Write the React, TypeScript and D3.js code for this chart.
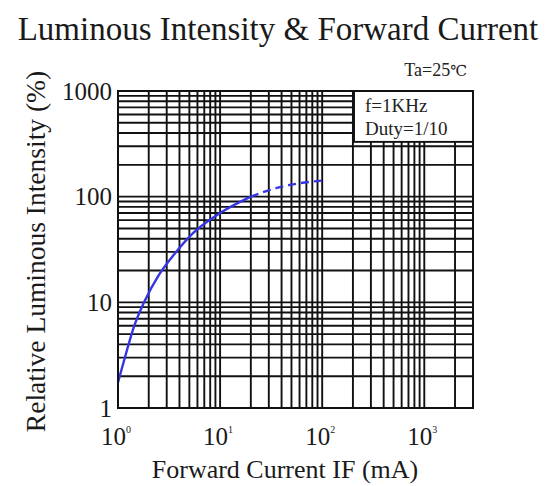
import React from 'react';
import * as d3 from 'd3';

// Forward current IF (mA) and relative luminous intensity (%)
const currentSolid = [1, 1.2, 1.4, 1.8, 2.5, 3.4, 5.4, 10, 20];
const intensitySolid = [1.75, 3.3, 5.5, 10, 18, 27, 45, 70, 100];
const currentDashed = [20, 36, 60, 110];
const intensityDashed = [100, 121, 134, 143];

const xDecades = [0, 1, 2, 3];
const yTickLabels = ['1', '10', '100', '1000'];

const FONT = '"Liberation Serif", "Times New Roman", serif';

const App = () => {
  const W = 560;
  const H = 486;
  const margin = { top: 91, right: 87, bottom: 78, left: 118 };

  const x = d3.scaleLog().domain([1, 3000]).range([margin.left, W - margin.right]);
  const y = d3.scaleLog().domain([1, 1000]).range([H - margin.bottom, margin.top]);

  const line = d3
    .line<[number, number]>()
    .x(d => x(d[0]))
    .y(d => y(d[1]))
    .curve(d3.curveMonotoneX);

  const solidPts = currentSolid.map((c, i) => [c, intensitySolid[i]] as [number, number]);
  const dashedPts = currentDashed.map((c, i) => [c, intensityDashed[i]] as [number, number]);

  const [x0, x1] = x.range();
  const [y0, y1] = y.range();

  // annotation box in data coordinates
  const boxX = x(205);
  const boxY = y(1000);
  const boxW = x1 - boxX;
  const boxH = y(330) - boxY;

  return (
    <svg width={W} height={H} style={{ position: 'absolute', left: 0, top: 0, background: '#fff' }} fontFamily={FONT}>
      <text x={W / 2 - 2} y={40} textAnchor="middle" fontSize={33} fill="#1a1a1a">
        Luminous Intensity &amp; Forward Current
      </text>
      <text x={467} y={76} textAnchor="end" fontSize={18} fill="#222">
        Ta=25<tspan fontFamily='"DejaVu Serif", serif' fontSize={15}>℃</tspan>
      </text>

      {/* grid */}
      <g stroke="#111" strokeWidth={1.9}>
        {x.ticks().map((t, i) => (
          <line key={'vx' + i} x1={x(t)} x2={x(t)} y1={y0} y2={y1} />
        ))}
        {y.ticks().map((t, i) => (
          <line key={'hy' + i} x1={x0} x2={x1} y1={y(t)} y2={y(t)} />
        ))}
      </g>

      {/* condition box */}
      <rect x={boxX} y={boxY} width={boxW} height={boxH} fill="#fff" stroke="#111" strokeWidth={1.9} />
      <text x={boxX + 11} y={boxY + 21} fontSize={19} fill="#222">f=1KHz</text>
      <text x={boxX + 11} y={boxY + 44} fontSize={19} fill="#222">Duty=1/10</text>

      {/* curve */}
      <path d={line(solidPts) || ''} fill="none" stroke="#3535e6" strokeWidth={2.4} />
      <path d={line(dashedPts) || ''} fill="none" stroke="#3535e6" strokeWidth={2.4} strokeDasharray="8 5" />

      <rect x={x0} y={y1} width={x1 - x0} height={y0 - y1} fill="none" stroke="#111" strokeWidth={2} />

      {/* y tick labels */}
      {y.ticks().filter(t => yTickLabels.includes(String(t))).map((t, i) => (
        <text key={'yl' + i} x={x0 - 6} y={y(t)} dy="0.35em" textAnchor="end" fontSize={25} fill="#1a1a1a">
          {String(t)}
        </text>
      ))}

      {/* x tick labels */}
      {xDecades.map(p => (
        <text key={'xl' + p} x={x(Math.pow(10, p)) - 2} y={445} textAnchor="middle" fontSize={25} fill="#1a1a1a">
          10
          <tspan dy={-12} fontSize={10}>{p}</tspan>
        </text>
      ))}

      <text x={285} y={478} textAnchor="middle" fontSize={26} fill="#1a1a1a">
        Forward Current IF (mA)
      </text>
      <text transform={`translate(45,${(y0 + y1) / 2 + 2}) rotate(-90)`} textAnchor="middle" fontSize={27.5} fill="#1a1a1a">
        Relative Luminous Intensity (%)
      </text>
    </svg>
  );
};

export default App;
